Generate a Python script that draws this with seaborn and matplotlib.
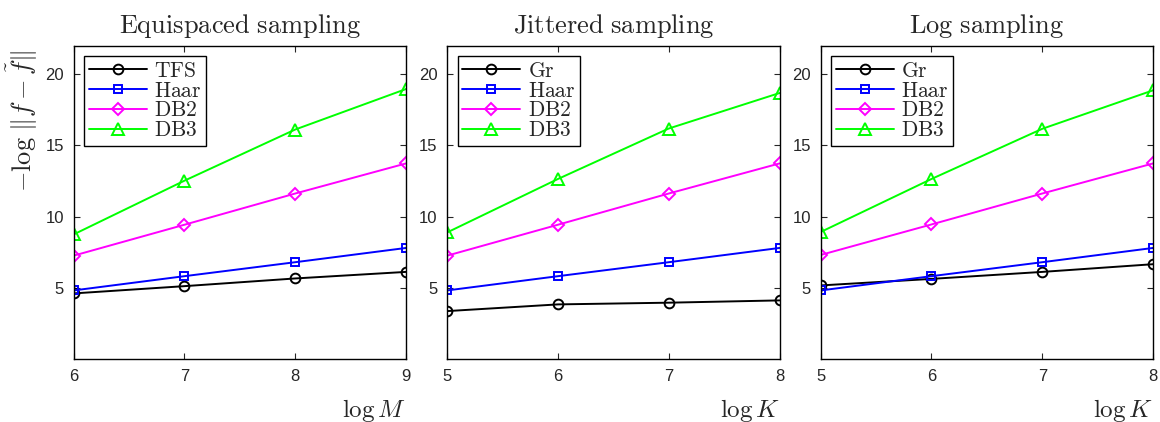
import numpy as np
import pandas as pd
import seaborn as sns
import matplotlib.pyplot as plt

# data
x_equi = [6, 7, 8, 9]
x_jit = [5, 6, 7, 8]
x_log = [5, 6, 7, 8]

equi_tfs = [4.61, 5.12, 5.66, 6.12]
equi_haar = [4.82, 5.82, 6.80, 7.80]
equi_db2 = [7.26, 9.43, 11.62, 13.73]
equi_db3 = [8.75, 12.52, 16.11, 18.95]

jit_gr = [3.37, 3.84, 3.96, 4.12]
jit_haar = [4.82, 5.82, 6.80, 7.80]
jit_db2 = [7.26, 9.43, 11.62, 13.73]
jit_db3 = [8.89, 12.64, 16.18, 18.67]

log_gr = [5.17, 5.63, 6.12, 6.66]
log_haar = [4.82, 5.82, 6.80, 7.80]
log_db2 = [7.31, 9.45, 11.62, 13.73]
log_db3 = [8.92, 12.64, 16.16, 18.86]

titles = ["Equispaced sampling", "Jittered sampling", "Log sampling"]
xlabels = [r"$\log M$", r"$\log K$", r"$\log K$"]

panels = [
    (x_equi, [("TFS", equi_tfs), ("Haar", equi_haar), ("DB2", equi_db2), ("DB3", equi_db3)]),
    (x_jit, [("Gr", jit_gr), ("Haar", jit_haar), ("DB2", jit_db2), ("DB3", jit_db3)]),
    (x_log, [("Gr", log_gr), ("Haar", log_haar), ("DB2", log_db2), ("DB3", log_db3)]),
]

colors = ["black", "blue", "magenta", "#00ff00"]
markers = ["o", "s", "D", "^"]
msizes = [7, 6, 6, 8]

sns.set_style("ticks")
plt.rcParams["font.family"] = ["Liberation Sans", "DejaVu Sans"]
plt.rcParams["mathtext.fontset"] = "cm"
plt.rcParams["xtick.direction"] = "in"
plt.rcParams["ytick.direction"] = "in"

fig = plt.figure(figsize=(11.6, 4.22), dpi=100)
lefts = [0.0635, 0.3855, 0.7075]
width = 0.2865
bottom = 0.149
height = 0.743

for i, (xs, series) in enumerate(panels):
    ax = fig.add_axes([lefts[i], bottom, width, height])
    for j, (name, vals) in enumerate(series):
        df = pd.DataFrame({"x": xs, "y": vals})
        sns.lineplot(data=df, x="x", y="y", ax=ax, color=colors[j],
                     marker=markers[j], markersize=msizes[j],
                     markerfacecolor="none", markeredgecolor=colors[j],
                     markeredgewidth=1.4, linewidth=1.4,
                     label=r"$\mathrm{" + name + "}$")
    ax.set_xlim(xs[0], xs[-1])
    ax.set_ylim(0, 22)
    ax.set_xticks(xs)
    ax.set_yticks([5, 10, 15, 20])
    ax.tick_params(axis="both", labelsize=12, top=True, right=True, length=4,
                   width=0.8, pad=7)
    for sp in ax.spines.values():
        sp.set_linewidth(1.0)
        sp.set_color("black")
    ax.set_title(r"$\mathrm{" + titles[i].replace(" ", r"\ ") + "}$",
                 fontsize=19, pad=9)
    ax.set_xlabel(xlabels[i], fontsize=18, ha="right")
    ax.xaxis.set_label_coords(1.0, -0.12)
    if i == 0:
        ax.set_ylabel(r"$-\log\,\|f-\tilde{f}\|$", fontsize=19)
        ax.yaxis.set_label_coords(-0.10, 0.76)
    else:
        ax.set_ylabel("")
    leg = ax.legend(loc="upper left", fontsize=15.5, frameon=True, fancybox=False,
                    edgecolor="black", framealpha=1, handlelength=2.7,
                    handletextpad=0.35, labelspacing=-0.05, borderpad=0.2,
                    borderaxespad=0.5)
    leg.get_frame().set_linewidth(1.0)

fig.savefig("out.png", dpi=100)
